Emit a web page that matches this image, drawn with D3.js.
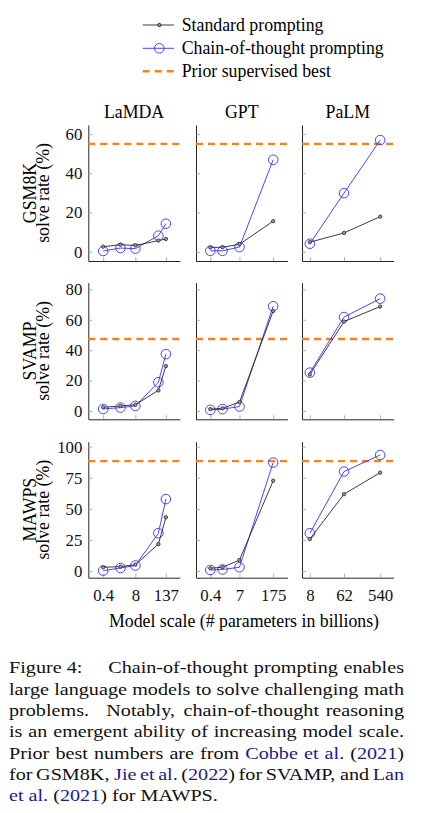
<!DOCTYPE html>
<html>
<head>
<meta charset="utf-8">
<script src="https://cdn.jsdelivr.net/npm/d3@7"></script>
<style>
  body { margin: 0; background: #fff; }
</style>
</head>
<body>
<script>

  // model sizes (billions of parameters), one list per model family
  var models = ["LaMDA", "GPT", "PaLM"];
  var lamdaSizes = [0.4, 2, 8, 68, 137];
  var gptSizes = [0.4, 1.3, 6.7, 175];
  var palmSizes = [8, 62, 540];
  var lamdaTicks = [0.4, 8, 137];
  var gptTicks = [0.4, 6.7, 175];
  var palmTicks = [8, 62, 540];
  var lamdaTickLabels = ["0.4", "8", "137"];
  var gptTickLabels = ["0.4", "7", "175"];
  var palmTickLabels = ["8", "62", "540"];

  // benchmarks
  var datasets = ["GSM8K", "SVAMP", "MAWPS"];
  var priorBest = [55.0, 47.3, 88.4];
  var gsm8kTicks = [0, 20, 40, 60];
  var svampTicks = [0, 20, 40, 60, 80];
  var mawpsTicks = [0, 25, 50, 75, 100];

  // solve rates, [LaMDA, GPT, PaLM]
  var gsm8kStandard = [[2.6, 3.6, 3.2, 5.7, 6.5], [2.2, 2.3, 3.8, 15.6], [4.9, 9.6, 17.9]];
  var gsm8kCot = [[0.4, 1.9, 1.6, 8.2, 14.3], [0.5, 0.5, 2.4, 46.9], [4.1, 29.9, 56.9]];
  var svampStandard = [[2.4, 3.3, 4.1, 13.5, 29.5], [1.2, 1.7, 5.8, 65.8], [24.0, 58.8, 68.7]];
  var svampCot = [[1.3, 2.2, 3.3, 18.9, 37.4], [0.7, 1.2, 2.9, 68.9], [25.2, 61.8, 73.9]];
  var mawpsStandard = [[3.0, 3.5, 5.1, 21.6, 43.2], [2.2, 3.0, 8.8, 72.6], [25.7, 61.8, 79.1]];
  var mawpsCot = [[0.3, 2.4, 4.4, 30.4, 57.8], [0.8, 1.2, 3.0, 87.2], [30.4, 80.0, 93.3]];

  var legendLabels = ["Standard prompting", "Chain-of-thought prompting", "Prior supervised best"];

  // caption, {..} marks citation links
  var captionLines = [
    "Figure\u00a04: Chain-of-thought prompting enables",
    "large language models to solve challenging math",
    "problems. Notably, chain-of-thought reasoning",
    "is an emergent ability of increasing model scale.",
    "Prior best numbers are from {Cobbe} {et} {al.} ({2021})",
    "for GSM8K, {Jie} {et} {al.} ({2022}) for SVAMP, and {Lan}",
    "{et} {al.} ({2021}) for MAWPS."
  ];

  var sizes = [lamdaSizes, gptSizes, palmSizes];
  var xTicks = [lamdaTicks, gptTicks, palmTicks];
  var xTickLabels = [lamdaTickLabels, gptTickLabels, palmTickLabels];
  var yTicks = [gsm8kTicks, svampTicks, mawpsTicks];
  var standard = [gsm8kStandard, svampStandard, mawpsStandard];
  var cot = [gsm8kCot, svampCot, mawpsCot];

  // layout
  var font = "'Liberation Serif', 'Times New Roman', serif";
  var blue = "#3434f2";
  var black = "#262626";
  var orange = "#f6821f";
  var labelSize = 17.8;
  var colX = [88.3, 196, 302];
  var panelW = 91.5;
  var rowTop = [125, 282.7, 441.7];
  var rowBottom = [261, 419.3, 577.7];
  var yDomains = [[-4.7, 64.6], [-5.5, 84.4], [-5.4, 104]];
  var xDomains = [[0.1, 500], [0.1, 700], [5, 1200]];

  var svg = d3.select("body").append("svg")
      .attr("width", 423)
      .attr("height", 813)
      .attr("font-family", font);

  // legend
  var legend = svg.append("g");
  var legendY = [25, 48.3, 71.3];
  legendY.forEach(function(ly, i) {
    if (i < 2) {
      legend.append("line")
        .attr("x1", 142.7).attr("x2", 174).attr("y1", ly).attr("y2", ly)
        .attr("stroke", i == 0 ? black : blue).attr("stroke-width", 0.9);
      legend.append("circle")
        .attr("cx", 159.3).attr("cy", ly)
        .attr("r", i == 0 ? 1.7 : 4.8)
        .attr("fill", i == 0 ? "#9a9a9a" : "none")
        .attr("stroke", i == 0 ? black : blue).attr("stroke-width", 0.9);
    } else {
      legend.append("line")
        .attr("x1", 142.7).attr("x2", 174).attr("y1", ly).attr("y2", ly)
        .attr("stroke", orange).attr("stroke-width", 2.4)
        .attr("stroke-dasharray", "7,5");
    }
    legend.append("text")
      .attr("x", 181.7).attr("y", ly + 5.8)
      .attr("font-size", labelSize)
      .text(legendLabels[i]);
  });

  // column titles
  models.forEach(function(m, c) {
    svg.append("text")
      .attr("x", colX[c] + panelW / 2).attr("y", 118.3)
      .attr("text-anchor", "middle")
      .attr("font-size", labelSize)
      .text(m);
  });

  datasets.forEach(function(ds, r) {
    var mid = (rowTop[r] + rowBottom[r]) / 2;
    svg.append("text")
      .attr("transform", "translate(36.2," + mid + ") rotate(-90)")
      .attr("text-anchor", "middle")
      .attr("font-size", labelSize)
      .text(ds);
    svg.append("text")
      .attr("transform", "translate(49.2," + mid + ") rotate(-90)")
      .attr("text-anchor", "middle")
      .attr("font-size", labelSize)
      .text("solve rate (%)");

    models.forEach(function(m, c) {
      var x = d3.scaleLog().domain(xDomains[c]).range([colX[c], colX[c] + panelW]);
      var y = d3.scaleLinear().domain(yDomains[r]).range([rowBottom[r], rowTop[r]]);
      var g = svg.append("g");

      var yAxis = g.append("g")
        .attr("transform", "translate(" + colX[c] + ",0)")
        .call(d3.axisLeft(y).tickValues(yTicks[r]).tickSize(-4).tickSizeOuter(0).tickPadding(6)
          .tickFormat(c == 0 ? d3.format("d") : function() { return ""; }));
      var xAxis = g.append("g")
        .attr("transform", "translate(0," + rowBottom[r] + ")")
        .call(d3.axisBottom(x).tickValues(xTicks[c]).tickSize(-4).tickSizeOuter(0).tickPadding(11.5)
          .tickFormat(function(d, i) { return r == 2 ? xTickLabels[c][i] : ""; }));
      [yAxis, xAxis].forEach(function(a) {
        a.attr("font-family", font).attr("font-size", 16.8);
        a.select(".domain").attr("stroke", black).attr("stroke-width", 1);
        a.selectAll(".tick line").attr("stroke", "#9a9a9a").attr("stroke-width", 0.8);
        a.selectAll(".tick text").attr("fill", "#111");
      });

      g.append("line")
        .attr("x1", colX[c]).attr("x2", colX[c] + panelW)
        .attr("y1", y(priorBest[r])).attr("y2", y(priorBest[r]))
        .attr("stroke", orange).attr("stroke-width", 2.4)
        .attr("stroke-dasharray", "7,5");

      var line = d3.line()
        .x(function(d) { return x(d[0]); })
        .y(function(d) { return y(d[1]); });

      var cotPts = d3.zip(sizes[c], cot[r][c]);
      g.append("path").datum(cotPts)
        .attr("d", line).attr("fill", "none")
        .attr("stroke", blue).attr("stroke-width", 0.9);
      g.selectAll(".cot").data(cotPts).enter().append("circle")
        .attr("cx", function(d) { return x(d[0]); })
        .attr("cy", function(d) { return y(d[1]); })
        .attr("r", 4.8)
        .attr("fill", "none").attr("stroke", blue).attr("stroke-width", 0.9);

      var stdPts = d3.zip(sizes[c], standard[r][c]);
      g.append("path").datum(stdPts)
        .attr("d", line).attr("fill", "none")
        .attr("stroke", black).attr("stroke-width", 0.9);
      g.selectAll(".std").data(stdPts).enter().append("circle")
        .attr("cx", function(d) { return x(d[0]); })
        .attr("cy", function(d) { return y(d[1]); })
        .attr("r", 1.7)
        .attr("fill", "#9a9a9a").attr("stroke", black).attr("stroke-width", 0.8);
    });
  });

  svg.append("text")
    .attr("x", 244).attr("y", 626.5)
    .attr("text-anchor", "middle")
    .attr("font-size", labelSize)
    .text("Model scale (# parameters in billions)");

  // caption, justified by hand; the source type is set a little wide
  var capLeft = 9, capRight = 404, capSize = 16.8, capStretch = 1.2;
  var link = "#1c1c86";
  var cap = svg.append("g")
    .attr("transform", "translate(" + capLeft + ",0) scale(" + capStretch + ",1)");
  var lineW = (capRight - capLeft) / capStretch;

  // gap weights, roughly like TeX space factors
  var gapWeight = function(w) {
    if (/:$/.test(w)) return 4.5;
    if (/\.$/.test(w) && w != "al." && w != "{al.}") return 2.6;
    if (/,$/.test(w)) return 1.3;
    return 1;
  };

  captionLines.forEach(function(ln, i) {
    var words = ln.split(" ");
    var baseY = 673.5 + i * 21.3;
    var nodes = words.map(function(w) {
      var t = cap.append("text").attr("y", baseY).attr("font-size", capSize).attr("fill", "#111");
      w.split(/(\{[^}]*\})/).forEach(function(part) {
        if (!part) return;
        var isLink = part[0] == "{";
        t.append("tspan")
          .attr("fill", isLink ? link : "#111")
          .text(isLink ? part.slice(1, -1) : part);
      });
      return t;
    });
    var widths = nodes.map(function(t) { return t.node().getComputedTextLength(); });
    var weights = words.slice(0, -1).map(gapWeight);
    var last = i == captionLines.length - 1;
    var unit = last ? capSize * 0.25 : (lineW - d3.sum(widths)) / d3.sum(weights);
    var cx = 0;
    nodes.forEach(function(t, k) {
      t.attr("x", cx);
      cx += widths[k] + (k < weights.length ? weights[k] * unit : 0);
    });
  });

</script>
</body>
</html>
